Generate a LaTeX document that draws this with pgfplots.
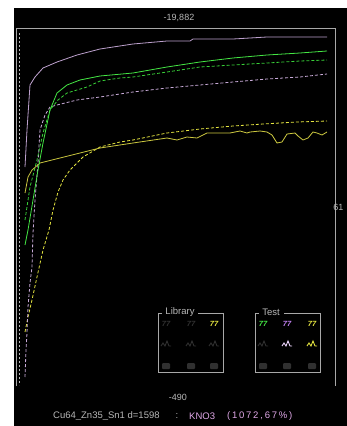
\documentclass[border=0pt]{standalone}
\usepackage{pgfplots}
\pgfplotsset{compat=1.18}
\usepackage{fontspec}
\setmainfont{Liberation Sans}
\definecolor{frame}{HTML}{A8A8A8}
\definecolor{lav}{HTML}{BCA0CC}
\definecolor{lavd}{HTML}{C8AAD8}
\definecolor{grn}{HTML}{44E644}
\definecolor{grnd}{HTML}{38D038}
\definecolor{yel}{HTML}{CCC840}
\definecolor{yeld}{HTML}{E4E440}
\definecolor{txt}{HTML}{B8B8B8}
\definecolor{pinkt}{HTML}{E0A8E8}
\definecolor{dk}{HTML}{303030}
\definecolor{vio}{HTML}{C080F0}
\definecolor{wl}{HTML}{F0D8FF}
\begin{document}
\begin{tikzpicture}
\begin{axis}[
  scale only axis, width=347pt, height=426pt,
  xmin=0, xmax=347, ymin=0, ymax=426, y dir=reverse,
  axis lines=none, clip=false,
]
% backgrounds
\fill[white] (axis cs:0,0) rectangle (axis cs:347,426);
\fill[black] (axis cs:14,8) rectangle (axis cs:347,426);
% frame
\draw[frame, line width=1pt] (axis cs:16,386) -- (axis cs:16,28) -- (axis cs:335,28) -- (axis cs:335,386);
% gray dashed reference line
\addplot[frame!80, line width=1pt, dash pattern=on 2pt off 2pt] coordinates {(19,33) (19,385)};
% yellow dashed
\addplot[yeld, line width=0.8pt, dash pattern=on 3pt off 2pt] coordinates {
(25,332) (28,317) (32,300) (37,277) (43,250) (49,230) (53,210) (58,192) (63,180) (70,170) (83,157) (100,147) (120,142) (133,140) (167,133) (200,129) (233,126) (263,124) (297,122) (327,121)};
% purple dashed
\addplot[lavd, line width=0.8pt, dash pattern=on 3pt off 2pt] coordinates {
(25,377) (26,350) (27,333) (28,307) (30,283) (32,267) (33,233) (35,200) (38,163) (40,130) (45,115) (50,107) (57,105) (77,100) (100,97) (133,92) (167,88) (200,85) (233,82) (267,79) (300,77) (327,74)};
% green dashed
\addplot[grnd, line width=0.8pt, dash pattern=on 3pt off 2pt] coordinates {
(25,220) (30,187) (37,160) (43,133) (50,110) (58,100) (67,93) (87,87) (100,81) (120,78) (133,77) (167,72) (200,67) (233,65) (267,63) (300,61) (327,60)};
% yellow solid
\addplot[yel, line width=0.8pt] coordinates {
(25,193) (28,177) (32,170) (40,163) (60,158) (80,153) (100,148) (133,143) (167,138) (177,140) (187,137) (197,138) (207,133) (230,133) (240,131) (247,133) (250,132) (260,131) (267,132) (272,135) (277,143) (282,142) (287,134) (295,133) (298,136) (303,140) (308,138) (313,132) (317,133) (322,135) (327,132)};
% green solid
\addplot[grn, line width=0.8pt] coordinates {
(25,245) (28,230) (33,200) (38,170) (43,143) (50,110) (57,93) (67,85) (80,80) (100,76) (133,73) (167,67) (200,62) (233,58) (267,55) (300,53) (327,51)};
% lavender solid
\addplot[lav, line width=0.8pt] coordinates {
(25,167) (27,130) (29,100) (30,85) (35,77) (43,68) (57,62) (77,55) (100,49) (133,44) (167,41) (190,41) (193,39) (233,39) (267,37) (327,37)};
% texts
\node[txt, font=\fontsize{9}{10}\selectfont] at (axis cs:179,18) {-19,882};
\node[txt, font=\fontsize{9}{10}\selectfont] at (axis cs:178,397) {-490};
\node[txt, font=\fontsize{9}{10}\selectfont, anchor=east] at (axis cs:347,207) {61};
\node[txt, font=\fontsize{9.5}{10}\selectfont, anchor=west, inner sep=0pt] at (axis cs:53,416) {Cu64\_Zn35\_Sn1 d=1598};
\node[txt, font=\fontsize{9.5}{10}\selectfont] at (axis cs:177,416) {:};
\node[pinkt, font=\fontsize{9.5}{10}\selectfont, anchor=west, inner sep=0pt] at (axis cs:189,416) {KNO3};
\node[pinkt, font=\fontsize{9.5}{10}\selectfont, anchor=west, inner sep=0pt] at (axis cs:227,416) {\makebox[61pt][s]{( 1 0 7 2 , 6 7 \% )}};
% legend boxes
\draw[frame, line width=0.8pt] (axis cs:162,313) -- (axis cs:158,313) -- (axis cs:158,372) -- (axis cs:223,372) -- (axis cs:223,313) -- (axis cs:198,313);
\node[txt, font=\fontsize{9.5}{10}\selectfont] at (axis cs:180,312) {Library};
\draw[frame, line width=0.8pt] (axis cs:259,313) -- (axis cs:255,313) -- (axis cs:255,372) -- (axis cs:320,372) -- (axis cs:320,313) -- (axis cs:284,313);
\node[txt, font=\fontsize{9.5}{10}\selectfont] at (axis cs:271,312) {Test};
% legend row 1
\node[dk, font=\bfseries\itshape\fontsize{7.5}{8}\selectfont] at (axis cs:166,324) {77};
\node[dk, font=\bfseries\itshape\fontsize{7.5}{8}\selectfont] at (axis cs:191,324) {77};
\node[yeld, font=\bfseries\itshape\fontsize{7.5}{8}\selectfont] at (axis cs:214,324) {77};
\node[grn, font=\bfseries\itshape\fontsize{7.5}{8}\selectfont] at (axis cs:263,324) {77};
\node[vio, font=\bfseries\itshape\fontsize{7.5}{8}\selectfont] at (axis cs:287,324) {77};
\node[yeld, font=\bfseries\itshape\fontsize{7.5}{8}\selectfont] at (axis cs:312,324) {77};
% legend row 2 (peak icons)
\draw[dk, line width=0.9pt] (axis cs:161,346) -- (axis cs:163,343) -- (axis cs:165,346) -- (axis cs:167,341) -- (axis cs:169,346) -- (axis cs:171,346);
\draw[dk, line width=0.9pt] (axis cs:186,346) -- (axis cs:188,343) -- (axis cs:190,346) -- (axis cs:192,341) -- (axis cs:194,346) -- (axis cs:196,346);
\draw[dk, line width=0.9pt] (axis cs:209,346) -- (axis cs:211,343) -- (axis cs:213,346) -- (axis cs:215,341) -- (axis cs:217,346) -- (axis cs:219,346);
\draw[dk, line width=0.9pt] (axis cs:258,346) -- (axis cs:260,343) -- (axis cs:262,346) -- (axis cs:264,341) -- (axis cs:266,346) -- (axis cs:268,346);
\draw[wl, line width=0.9pt] (axis cs:282,346) -- (axis cs:284,343) -- (axis cs:286,346) -- (axis cs:288,341) -- (axis cs:290,346) -- (axis cs:292,346);
\draw[yeld, line width=0.9pt] (axis cs:307,346) -- (axis cs:309,343) -- (axis cs:311,346) -- (axis cs:313,341) -- (axis cs:315,346) -- (axis cs:317,346);
% legend row 3 (squares)
\fill[dk, rounded corners=1pt] (axis cs:162,363) rectangle (axis cs:170,369);
\fill[dk, rounded corners=1pt] (axis cs:187,363) rectangle (axis cs:195,369);
\fill[dk, rounded corners=1pt] (axis cs:210,363) rectangle (axis cs:218,369);
\fill[dk, rounded corners=1pt] (axis cs:259,363) rectangle (axis cs:267,369);
\fill[dk, rounded corners=1pt] (axis cs:283,363) rectangle (axis cs:291,369);
\fill[dk, rounded corners=1pt] (axis cs:308,363) rectangle (axis cs:316,369);
\end{axis}
\end{tikzpicture}
\end{document}
